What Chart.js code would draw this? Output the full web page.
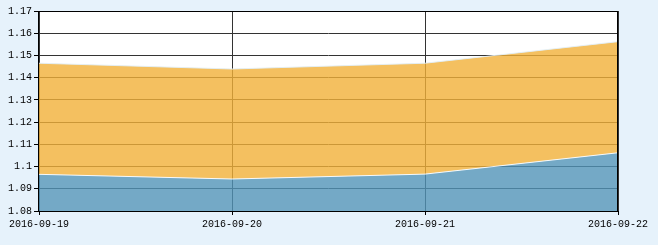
<!DOCTYPE html>
<html><head><meta charset="utf-8">
<script src="https://cdn.jsdelivr.net/npm/chart.js@4/dist/chart.umd.min.js"></script>
<style>html,body{margin:0;padding:0;background:#e6f2fb;}#c{display:block;}</style>
</head><body>
<canvas id="c" width="658" height="245"></canvas>
<script>
const categories = ["2016-09-19", "2016-09-20", "2016-09-21", "2016-09-22"];
const lowerSeries = [1.0965, 1.0944, 1.0966, 1.1062];
const upperSeries = [1.1465, 1.1439, 1.1465, 1.1562];
const yTicks = [1.08, 1.09, 1.1, 1.11, 1.12, 1.13, 1.14, 1.15, 1.16, 1.17];

const bgPlugin = {
  id: 'bg',
  beforeDraw(chart) {
    const {ctx, chartArea: a} = chart;
    ctx.save();
    ctx.fillStyle = '#e6f2fb';
    ctx.fillRect(0, 0, chart.width, chart.height);
    ctx.fillStyle = '#ffffff';
    ctx.fillRect(a.left, a.top, a.right - a.left, a.bottom - a.top);
    ctx.restore();
  },
  afterDatasetsDraw(chart) {
    const {ctx, chartArea: a} = chart;
    ctx.save();
    ctx.strokeStyle = '#000';
    ctx.lineWidth = 1;
    ctx.strokeRect(Math.round(a.left) - 0.5, Math.round(a.top) + 0.5, Math.round(a.right - a.left), Math.round(a.bottom - a.top));
    ctx.restore();
  }
};

new Chart(document.getElementById('c'), {
  type: 'line',
  data: {
    labels: categories,
    datasets: [
      {
        data: lowerSeries,
        fill: 'start',
        backgroundColor: 'rgba(81,148,184,0.8)',
        borderColor: 'rgba(255,255,255,0.9)',
        borderWidth: 1,
        pointRadius: 0,
        tension: 0
      },
      {
        data: upperSeries,
        fill: 0,
        backgroundColor: 'rgba(241,176,56,0.8)',
        borderColor: 'rgba(225,240,250,0.9)',
        borderWidth: 1,
        pointRadius: 0,
        tension: 0
      }
    ]
  },
  options: {
    responsive: false,
    animation: false,
    devicePixelRatio: 1,
    layout: { padding: { left: 0, right: 40, top: 11, bottom: 0 } },
    plugins: { legend: { display: false }, tooltip: { enabled: false } },
    scales: {
      x: {
        type: 'category',
        offset: false,
        grid: { color: '#333', tickLength: 4, drawTicks: true, tickColor: '#000' },
        border: { display: false },
        ticks: { color: '#000', font: { family: 'Liberation Mono', size: 10 }, maxRotation: 0, autoSkip: false, padding: 3 },
        afterFit(s) { s.height = 34; }
      },
      y: {
        min: 1.08, max: 1.17,
        afterBuildTicks(s) { s.ticks = yTicks.map(v => ({ value: v })); },
        grid: { color: '#333', tickLength: 5, drawTicks: true, tickColor: '#000' },
        border: { display: false },
        ticks: { color: '#000', font: { family: 'Liberation Mono', size: 10 }, padding: 2,
          callback: v => String(Math.round(v * 100) / 100) },
        afterFit(s) { s.width = 39; }
      }
    }
  },
  plugins: [bgPlugin]
});
</script>
</body></html>
